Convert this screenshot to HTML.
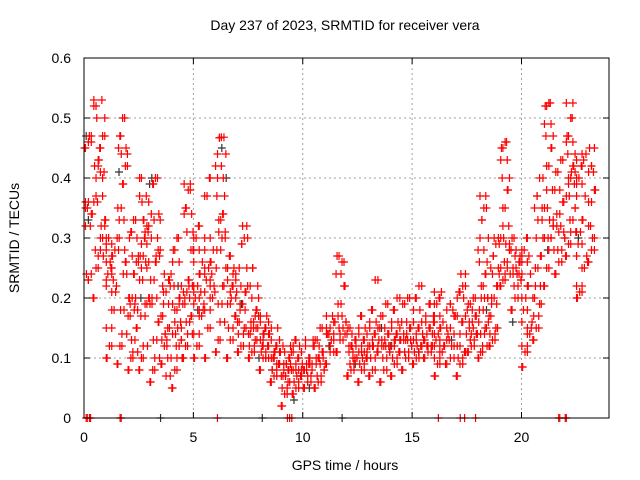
<!DOCTYPE html>
<html><head><meta charset="utf-8"><style>
body{margin:0;background:#fff}
svg{display:block;font-family:"Liberation Sans",sans-serif}
</style></head><body>
<svg id="chart" width="640" height="480">
<rect x="0" y="0" width="640" height="480" fill="#fff"/>
<g id="grid"></g>
<g id="marks"></g>
<g id="axes"></g>
<text x="345" y="30" font-size="14" text-anchor="middle">Day 237 of 2023, SRMTID for receiver vera</text>
<text x="345" y="470" font-size="14" text-anchor="middle">GPS time / hours</text>
<text transform="translate(19,238) rotate(-90)" font-size="14" text-anchor="middle">SRMTID / TECUs</text>
</svg>
<script>
const xTicks=[0,5,10,15,20];
const yTicks=[0,0.1,0.2,0.3,0.4,0.5,0.6];
const yTickLabels=["0","0.1","0.2","0.3","0.4","0.5","0.6"];
const binStarts=[0,0.4,1.0,1.5,2.0,2.5,3.0,3.5,4.0,4.5,5.0,5.5,6.0,6.5,7.0,7.5,8.0,8.5,9.0,9.5,10.0,10.5,11.0,11.5,12.0,12.5,13.0,13.5,14.0,14.5,15.0,15.5,16.0,16.5,17.0,17.5,18.0,18.5,19.0,19.5,20.0,20.5,21.0,21.5,22.0,22.5,23.0];
const redValues=[
[0.45,0.46,0.47,0.35,0.36,0.34,0.32,0.23,0.24],
[0.2,0.25,0.27,0.28,0.3,0.33,0.36,0.4,0.42,0.45,0.47,0.5,0.53,0.52,0.43,0.41,0.37,0.32],
[0.1,0.12,0.15,0.18,0.22,0.24,0.26,0.27,0.28,0.29,0.3,0.25,0.23,0.21],
[0.09,0.12,0.14,0.18,0.26,0.3,0.33,0.35,0.39,0.42,0.44,0.45,0.47,0.5,0.28,0.24],
[0.08,0.1,0.11,0.13,0.15,0.17,0.19,0.2,0.24,0.26,0.27,0.3,0.31,0.33,0.2,0.18],
[0.08,0.1,0.12,0.17,0.19,0.2,0.23,0.25,0.27,0.3,0.32,0.36,0.37,0.4,0.33,0.31,0.29,0.26],
[0.06,0.08,0.1,0.13,0.16,0.19,0.2,0.23,0.26,0.28,0.33,0.34,0.39,0.4,0.3,0.27],
[0.09,0.12,0.13,0.15,0.17,0.19,0.21,0.23,0.24,0.22,0.14,0.1,0.07],
[0.05,0.08,0.1,0.12,0.13,0.14,0.16,0.18,0.2,0.22,0.26,0.28,0.3,0.19,0.15],
[0.1,0.12,0.14,0.16,0.17,0.19,0.2,0.21,0.23,0.28,0.31,0.34,0.35,0.38,0.39,0.22],
[0.1,0.12,0.14,0.17,0.19,0.2,0.22,0.24,0.26,0.28,0.3,0.32,0.21,0.18],
[0.1,0.15,0.18,0.2,0.21,0.23,0.25,0.26,0.28,0.3,0.37,0.4,0.24,0.22],
[0.11,0.13,0.16,0.19,0.22,0.25,0.28,0.31,0.33,0.34,0.37,0.42,0.44,0.467,0.468,0.4,0.3],
[0.1,0.13,0.15,0.17,0.19,0.21,0.22,0.23,0.25,0.27,0.24,0.2],
[0.11,0.12,0.14,0.15,0.16,0.18,0.19,0.21,0.22,0.25,0.29,0.3,0.32],
[0.1,0.11,0.12,0.13,0.14,0.15,0.16,0.18,0.2,0.22,0.25,0.17,0.15],
[0.08,0.1,0.11,0.12,0.13,0.14,0.15,0.16,0.17,0.12,0.1,0.14],
[0.06,0.07,0.08,0.09,0.1,0.11,0.12,0.13,0.15,0.1,0.09,0.11],
[0.02,0.04,0.05,0.06,0.07,0.08,0.09,0.1,0.11,0.12,0.07,0.08,0.09],
[0.04,0.05,0.06,0.07,0.08,0.09,0.1,0.11,0.12,0.13,0.08,0.07],
[0.05,0.06,0.07,0.08,0.09,0.1,0.12,0.13,0.09,0.08],
[0.05,0.06,0.07,0.08,0.09,0.1,0.11,0.12,0.13,0.15,0.1],
[0.09,0.11,0.13,0.14,0.15,0.16,0.17,0.12,0.14],
[0.11,0.13,0.15,0.16,0.17,0.19,0.22,0.24,0.27,0.26,0.14],
[0.07,0.08,0.09,0.1,0.11,0.12,0.13,0.14,0.15,0.1,0.12],
[0.06,0.08,0.09,0.1,0.11,0.12,0.13,0.14,0.15,0.17,0.11,0.1],
[0.07,0.08,0.1,0.11,0.12,0.13,0.14,0.15,0.16,0.18,0.23,0.12],
[0.06,0.08,0.1,0.11,0.12,0.13,0.14,0.15,0.17,0.19,0.12],
[0.07,0.09,0.1,0.11,0.12,0.13,0.14,0.15,0.16,0.18,0.2,0.13],
[0.08,0.1,0.11,0.12,0.13,0.14,0.15,0.16,0.19,0.2,0.13],
[0.09,0.1,0.11,0.12,0.13,0.14,0.15,0.16,0.18,0.2,0.22,0.12],
[0.1,0.11,0.12,0.13,0.14,0.15,0.16,0.17,0.19,0.12],
[0.07,0.09,0.1,0.11,0.12,0.13,0.14,0.15,0.16,0.17,0.19,0.2,0.21,0.12],
[0.09,0.1,0.12,0.13,0.15,0.17,0.18,0.19,0.14],
[0.07,0.09,0.1,0.11,0.12,0.14,0.16,0.17,0.2,0.21,0.22,0.24],
[0.11,0.12,0.13,0.14,0.15,0.16,0.17,0.18,0.19,0.2,0.14],
[0.1,0.11,0.12,0.14,0.15,0.16,0.18,0.2,0.22,0.24,0.26,0.28,0.3,0.33,0.35,0.37,0.2],
[0.12,0.13,0.14,0.15,0.17,0.19,0.2,0.22,0.24,0.25,0.27,0.29,0.3],
[0.22,0.23,0.24,0.26,0.28,0.3,0.32,0.35,0.38,0.4,0.43,0.45,0.46,0.25,0.29],
[0.18,0.2,0.22,0.23,0.24,0.25,0.26,0.28,0.3,0.24,0.27],
[0.085,0.11,0.12,0.14,0.16,0.18,0.2,0.22,0.24,0.26,0.28,0.3,0.27,0.15],
[0.13,0.15,0.17,0.19,0.2,0.22,0.25,0.27,0.3,0.35,0.37,0.4,0.33],
[0.22,0.25,0.28,0.3,0.32,0.35,0.38,0.42,0.45,0.47,0.49,0.52,0.525,0.3,0.33],
[0.24,0.26,0.28,0.3,0.32,0.34,0.36,0.38,0.41,0.43,0.31],
[0.27,0.29,0.31,0.33,0.35,0.37,0.39,0.4,0.42,0.44,0.46,0.47,0.5,0.525,0.41],
[0.2,0.21,0.22,0.25,0.27,0.29,0.31,0.33,0.37,0.39,0.4,0.42,0.43,0.44],
[0.26,0.28,0.3,0.32,0.36,0.38,0.41,0.42,0.45]
];
const blackX=[0.1,0.2,1.6,2.6,3.0,3.1,4.3,5.2,6.3,6.5,7.2,8.0,8.6,9.6,10.3,11.2,12.4,13.6,14.0,15.3,16.8,18.4,19.6,20.3,21.2,22.6,3.5,8.15,11.8];
const blackY=[0.47,0.33,0.41,0.2,0.39,0.4,0.22,0.18,0.45,0.4,0.19,0.1,0.08,0.03,0.05,0.12,0.09,0.15,0.12,0.11,0.13,0.18,0.16,0.22,0.28,0.3,0,0,0];
const zeroRedX=[0.1,0.15,0.25,0.3,1.65,1.7,6.1,9.3,9.4,9.5,16.2,17.2,17.4,17.9,21.7,21.75,22.0,22.05];
const zeroRedY=[0,0,0,0,0,0,0,0,0,0,0,0,0,0,0,0,0,0];

const L=84,R=609,T=58,B=418,XMAX=24,YMAX=0.6;
const xs=v=>L+v/XMAX*(R-L);
const ys=v=>B-v/YMAX*(B-T);
const NS="http://www.w3.org/2000/svg";
function mk(tag,attrs,parent){const e=document.createElementNS(NS,tag);for(const k in attrs)e.setAttribute(k,attrs[k]);parent.appendChild(e);return e;}
const grid=document.getElementById('grid'),axes=document.getElementById('axes'),marks=document.getElementById('marks');
xTicks.forEach((t,i)=>{
  if(t>0){const g=mk('line',{x1:xs(t),x2:xs(t),y1:T,y2:B,stroke:'#a0a0a0','stroke-dasharray':'2,3'},grid);
  
  }
  mk('line',{x1:xs(t),x2:xs(t),y1:B,y2:B-6,stroke:'#000'},axes);
  mk('line',{x1:xs(t),x2:xs(t),y1:T,y2:T+6,stroke:'#000'},axes);
  const tx=mk('text',{x:xs(t),y:B+24,'font-size':14,'text-anchor':'middle'},axes);
  tx.textContent=String(t);
  
  
});
yTicks.forEach((t,i)=>{
  if(t>0&&t<YMAX){const g=mk('line',{x1:L,x2:R,y1:ys(t),y2:ys(t),stroke:'#a0a0a0','stroke-dasharray':'2,3'},grid);
  
  }
  mk('line',{x1:L,x2:L+6,y1:ys(t),y2:ys(t),stroke:'#000'},axes);
  mk('line',{x1:R,x2:R-6,y1:ys(t),y2:ys(t),stroke:'#000'},axes);
  const tx=mk('text',{x:L-13,y:ys(t)+5,'font-size':14,'text-anchor':'end'},axes);
  tx.textContent=yTickLabels[i];
  
  
});
const frame=mk('rect',{x:L,y:T,width:R-L,height:B-T,fill:'none',stroke:'#000'},axes);


function plus(x,y,col){
  const p=mk('path',{d:`M${xs(x)-4},${ys(y)}h8M${xs(x)},${ys(y)-4}v8`,stroke:col,'stroke-width':1.2,fill:'none'},marks);
  
  
}
blackX.forEach((x,i)=>plus(x,blackY[i],'#333'));
redValues.forEach((vals,b)=>{
  const w=(b+1<binStarts.length?binStarts[b+1]:binStarts[b]+0.4)-binStarts[b];
  vals.forEach((v,i)=>{
    const frac=((i*7)%vals.length+0.5)/vals.length;
    const frac2=((i*3+1)%vals.length+0.5)/vals.length;
    plus(binStarts[b]+frac*w,v,'#ff0000');
    plus(binStarts[b]+frac2*w,v,'#ff0000');
  });
});
zeroRedX.forEach((x,i)=>plus(x,zeroRedY[i],'#ff0000'));
</script>
</body></html>
